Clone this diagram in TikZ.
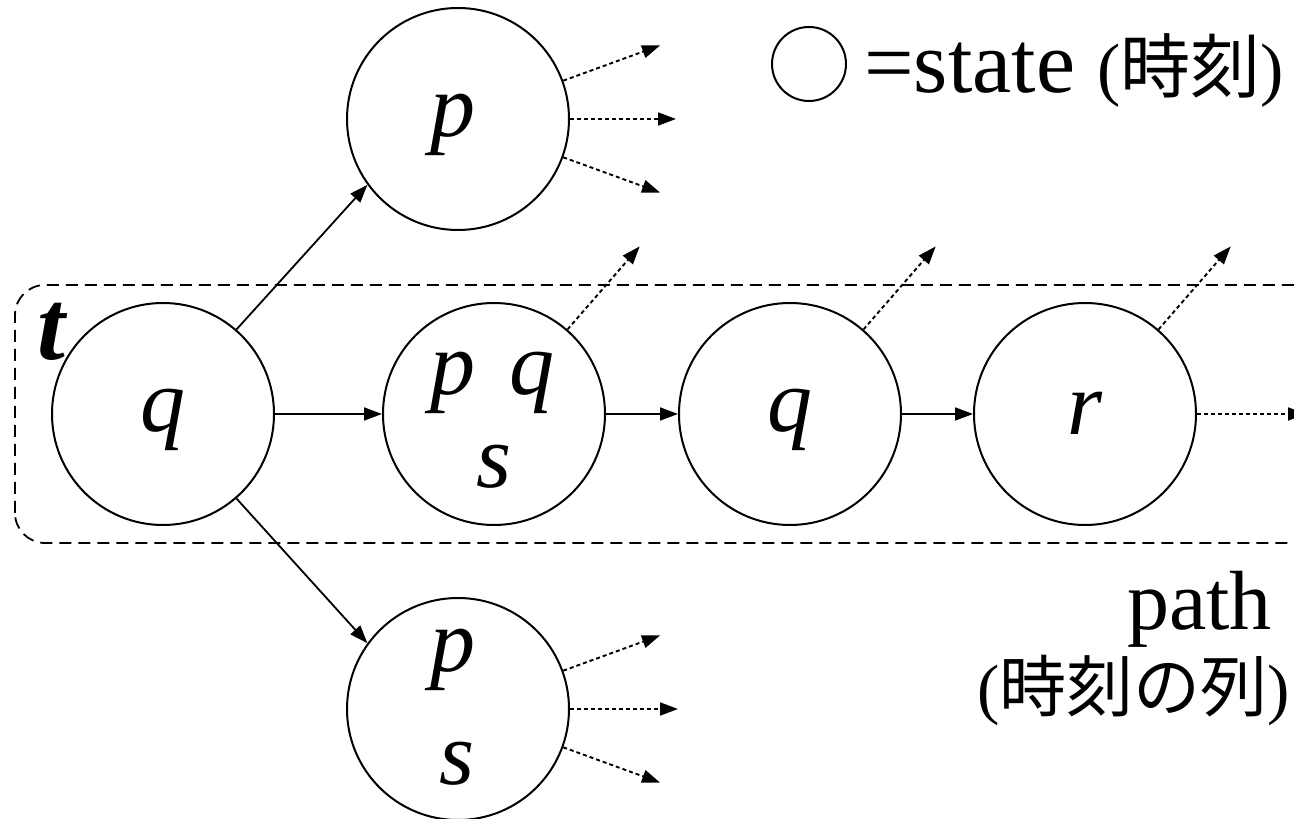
\documentclass[tikz,border=0pt]{standalone}
\usepackage{fontspec}
\setmainfont{LiberationSerif}[Extension=.ttf,UprightFont=*-Regular,ItalicFont=*-Italic,BoldFont=*-Bold,BoldItalicFont=*-BoldItalic]
\newfontfamily\cjk{Noto Sans CJK JP}
\usetikzlibrary{arrows.meta,calc}
\begin{document}
\begin{tikzpicture}[x=1pt,y=1pt,
  state/.style={circle,draw,line width=2pt,minimum size=222pt,inner sep=0pt},
  lbl/.style={anchor=base,inner sep=0pt,font=\fontsize{90}{90}\selectfont\itshape},
  arr/.style={line width=1.8pt,-{Triangle[length=18pt,width=13pt]}},
  darr/.style={line width=1.9pt,dash pattern=on 4pt off 3pt,-{Triangle[length=18pt,width=13pt]}},
  txt/.style={inner sep=0pt}
]
\useasboundingbox (0,0) rectangle (1294,819);
% path box
\draw[line width=1.8pt,dash pattern=on 12pt off 7pt,rounded corners=30pt] (15,276) rectangle (1330,534);
% states
\node[state] (q) at (163,405) {};
\node[state] (p) at (458,700) {};
\node[state] (pqs) at (494,405) {};
\node[state] (q2) at (790,405) {};
\node[state] (r) at (1085,405) {};
\node[state] (ps) at (458,110) {};
% labels
\node[lbl] (lq) at (163,387) {q};
\node[lbl] (lp) at (453,682) {p};
\node[lbl] (lpqsp) at (453,424) {p};
\node[lbl] (lpqsq) at (532,424) {q};
\node[lbl] (lpqss) at (494,331) {s};
\node[lbl] (lq2) at (790,387) {q};
\node[lbl] (lr) at (1085,384) {r};
\node[lbl] (lpsp) at (453,147) {p};
\node[lbl] (lpss) at (457,34) {s};
\node[anchor=base,inner sep=0pt,font=\fontsize{100}{100}\selectfont\bfseries\itshape] (tl) at (51,459) {t};
% solid transitions
\draw[arr] (q.49) -- (p.216);
\draw[arr] (q.-49) -- (ps.144);
\draw[arr] (q.east) -- (pqs.west);
\draw[arr] (pqs.east) -- (q2.west);
\draw[arr] (q2.east) -- (r.west);
% dotted branches
\coordinate (pa) at ($(p.center)+(20:215)$);
\coordinate (pb) at ($(p.center)+(0:218)$);
\coordinate (pc) at ($(p.center)+(-20:215)$);
\draw[darr] (p.20) -- (pa);
\draw[darr] (p.east) -- (pb);
\draw[darr] (p.-20) -- (pc);
\coordinate (sa) at ($(ps.center)+(20:215)$);
\coordinate (sb) at ($(ps.center)+(0:220)$);
\coordinate (sc) at ($(ps.center)+(-20:215)$);
\draw[darr] (ps.20) -- (sa);
\draw[darr] (ps.east) -- (sb);
\draw[darr] (ps.-20) -- (sc);
\coordinate (ua) at ($(pqs.center)+(49:222)$);
\coordinate (ub) at ($(q2.center)+(49:222)$);
\coordinate (uc) at ($(r.center)+(49:222)$);
\draw[darr] (pqs.49) -- (ua);
\draw[darr] (q2.49) -- (ub);
\draw[darr] (r.49) -- (uc);
\coordinate (rend) at (1306,405);
\draw[darr] (r.east) -- (rend);
% legend
\node[circle,draw,line width=2pt,minimum size=74pt,inner sep=0pt] (leg) at (809,755) {};
\node[txt,anchor=base west,font=\fontsize{88}{88}\selectfont] (legt) at (864,726) {=state {\fontsize{70}{70}\selectfont({\cjk 時刻})}};
% path label
\node[txt,anchor=base east,font=\fontsize{84}{84}\selectfont] (pathl) at (1272,189) {path};
\node[txt,anchor=base east,font=\fontsize{67}{67}\selectfont] (seql) at (1290,107) {({\cjk 時刻の列})};
\end{tikzpicture}
\end{document}
